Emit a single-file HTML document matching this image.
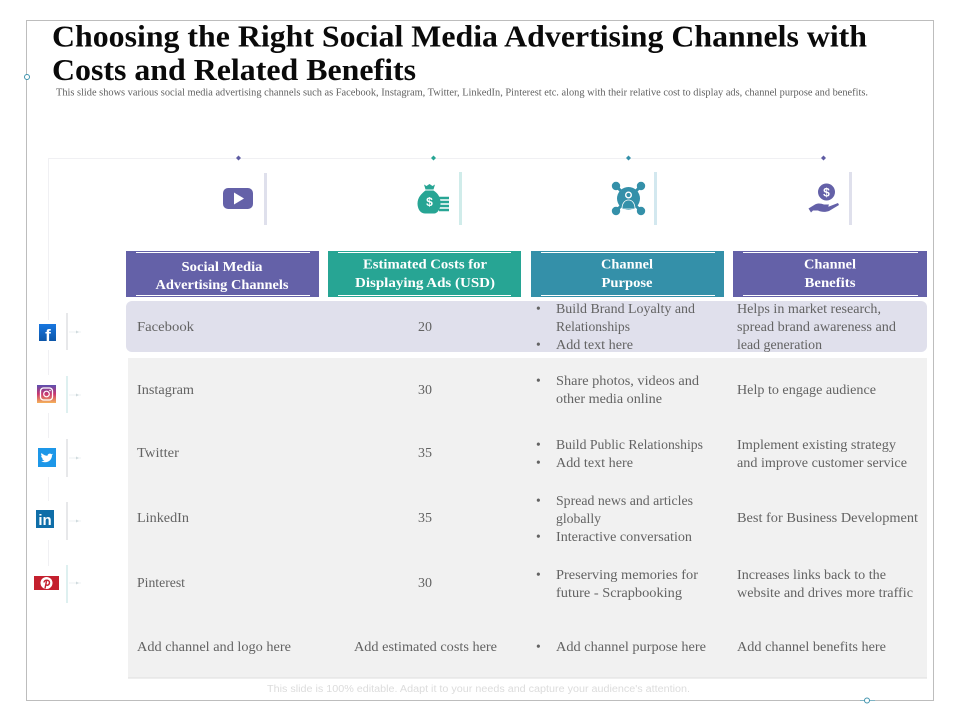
<!DOCTYPE html>
<html lang="en">
<head>
<meta charset="utf-8">
<title>Choosing the Right Social Media Advertising Channels</title>
<style>
html,body{margin:0;padding:0;background:#fff;width:960px;height:720px;overflow:hidden}
svg{display:block}
text{font-family:"Liberation Serif",serif}
.t{font-size:13.5px;fill:#636363}
.h{font-size:13.5px;font-weight:bold;fill:#fff}
</style>
</head>
<body>
<svg width="960" height="720" viewBox="0 0 960 720" xmlns="http://www.w3.org/2000/svg">
<rect x="26.5" y="20.5" width="907" height="680" fill="#fff" stroke="#bdbdbd"/>
<line x1="860" y1="700.5" x2="875" y2="700.5" stroke="#7fb4c4"/>
<circle cx="27" cy="77" r="2.5" fill="#fff" stroke="#3f93ad"/>
<circle cx="867" cy="700.5" r="2.5" fill="#fff" stroke="#3f93ad"/>

<text x="52" y="46.500" font-size="31" font-weight="bold" fill="#0a0a0a" textLength="815" lengthAdjust="spacingAndGlyphs">Choosing the Right Social Media Advertising Channels with</text>
<text x="52" y="80" font-size="31" font-weight="bold" fill="#0a0a0a" textLength="364" lengthAdjust="spacingAndGlyphs">Costs and Related Benefits</text>
<text x="56" y="95.500" font-size="10" fill="#606060" textLength="812" lengthAdjust="spacingAndGlyphs">This slide shows various social media advertising channels such as Facebook, Instagram, Twitter, LinkedIn, Pinterest etc. along with their relative cost to display ads, channel purpose and benefits.</text>

<path d="M48.500 320V158.500H825M48.500 350V375M48.500 413V438M48.500 477V501M48.500 540V566" fill="none" stroke="#f0f0f3"/>
<path d="M238.500 155.500l2.500 2.500-2.500 2.500-2.500-2.500z" fill="#5f5ca3"/>
<path d="M433.500 155.500l2.500 2.500-2.500 2.500-2.500-2.500z" fill="#27a594"/>
<path d="M628.500 155.500l2.500 2.500-2.500 2.500-2.500-2.500z" fill="#3490a9"/>
<path d="M823.500 155.500l2.500 2.500-2.500 2.500-2.500-2.500z" fill="#5f5ca3"/>

<rect x="264" y="173" width="3" height="52" fill="#dfe0ec"/>
<rect x="459" y="172" width="3" height="53" fill="#d0ecea"/>
<rect x="654" y="172" width="3" height="53" fill="#d3e8ef"/>
<rect x="849" y="172" width="3" height="53" fill="#dfe0ec"/>

<g>
<rect x="223" y="188" width="30" height="21" rx="5" fill="#6461a8"/>
<path d="M234 192.500l10 6-10 6z" fill="#fff"/>
</g>
<g>
<path d="M424 184.500l2.500 1.500 3-2 3 2 2.500-1.500-1.500 5h-8zM425.500 190.500h8c5 3 7.500 8 7 14 -.5 5-3 9-6.500 9h-9c-5 0-7.500-5-7.500-10 0-6 4-10 8-13z" fill="#27a594"/>
<text x="429.500" y="206" font-size="12" font-weight="bold" fill="#fff" text-anchor="middle" style="font-family:'Liberation Sans',sans-serif">$</text>
<path d="M439 198h10M439 202h10M439 206h10M439 210h10" stroke="#27a594" stroke-width="2.400"/>
</g>
<g>
<path d="M616 186l25 25M641 186l-25 25" stroke="#3490a9" stroke-width="3"/>
<circle cx="616" cy="186" r="4.200" fill="#3490a9"/>
<circle cx="641" cy="186" r="4.200" fill="#3490a9"/>
<circle cx="616" cy="211" r="4.200" fill="#3490a9"/>
<circle cx="641" cy="211" r="4.200" fill="#3490a9"/>
<circle cx="628.500" cy="198.500" r="11.500" fill="#3490a9"/>
<circle cx="628.500" cy="195" r="2.800" fill="#3490a9" stroke="#fff" stroke-width="1.400"/>
<path d="M622 209c0-6 3-9 6.500-9s6.500 3 6.500 9z" fill="#3490a9" stroke="#fff" stroke-width=".8"/>
</g>
<g>
<circle cx="826.500" cy="192" r="8.500" fill="#6461a8"/>
<text x="826.500" y="196.500" font-size="12" font-weight="bold" fill="#fff" text-anchor="middle" style="font-family:'Liberation Sans',sans-serif">$</text>
<path d="M808.500 208.500l6.500-4c3-1.500 6-1 9 0h5l-1 2.500h-6l7-.5 9-3.500 1 2-10 6c-4 1.500-8 1-11-.5h-5l-2 2z" fill="#6461a8"/>
</g>

<g>
<rect x="126" y="251" width="193" height="46" fill="#6461a8"/>
<path d="M136 252.500h174M136 295.500h174" stroke="#fff"/>
<text class="h" x="222" y="271" text-anchor="middle" textLength="81" lengthAdjust="spacingAndGlyphs">Social Media</text>
<text class="h" x="222" y="289" text-anchor="middle" textLength="133" lengthAdjust="spacingAndGlyphs">Advertising Channels</text>
</g>
<g>
<rect x="328" y="251" width="193" height="46" fill="#27a594"/>
<path d="M338 252.500h173M338 295.500h173" stroke="#fff"/>
<text class="h" x="425" y="268.500" text-anchor="middle" textLength="124" lengthAdjust="spacingAndGlyphs">Estimated Costs for</text>
<text class="h" x="425" y="287" text-anchor="middle" textLength="140" lengthAdjust="spacingAndGlyphs">Displaying Ads (USD)</text>
</g>
<g>
<rect x="531" y="251" width="193" height="46" fill="#3490a9"/>
<path d="M541 252.500h174M541 295.500h174" stroke="#fff"/>
<text class="h" x="627" y="268.500" text-anchor="middle" textLength="52" lengthAdjust="spacingAndGlyphs">Channel</text>
<text class="h" x="627" y="287" text-anchor="middle" textLength="51" lengthAdjust="spacingAndGlyphs">Purpose</text>
</g>
<g>
<rect x="733" y="251" width="194" height="46" fill="#6461a8"/>
<path d="M743 252.500h175M743 295.500h175" stroke="#fff"/>
<text class="h" x="830" y="268.500" text-anchor="middle" textLength="52" lengthAdjust="spacingAndGlyphs">Channel</text>
<text class="h" x="830" y="287" text-anchor="middle" textLength="51" lengthAdjust="spacingAndGlyphs">Benefits</text>
</g>

<rect x="126" y="301" width="801" height="51" rx="6" fill="#e0e0ec"/>
<rect x="128" y="358" width="799" height="320" fill="#f1f1f1"/>
<line x1="128" y1="678" x2="927" y2="678" stroke="#dedede"/>

<g>
<text class="t" x="137" y="331" textLength="57" lengthAdjust="spacingAndGlyphs">Facebook</text>
<text class="t" x="425" y="331" text-anchor="middle" textLength="14" lengthAdjust="spacingAndGlyphs">20</text>
<text class="t" x="536" y="313">•</text>
<text class="t" x="556" y="313" textLength="139" lengthAdjust="spacingAndGlyphs">Build Brand Loyalty and</text>
<text class="t" x="556" y="331" textLength="74" lengthAdjust="spacingAndGlyphs">Relationships</text>
<text class="t" x="536" y="349">•</text>
<text class="t" x="556" y="349" textLength="77" lengthAdjust="spacingAndGlyphs">Add text here</text>
<text class="t" x="737" y="313" textLength="144" lengthAdjust="spacingAndGlyphs">Helps in market research,</text>
<text class="t" x="737" y="331" textLength="159" lengthAdjust="spacingAndGlyphs">spread brand awareness and</text>
<text class="t" x="737" y="349" textLength="85" lengthAdjust="spacingAndGlyphs">lead generation</text>
</g>
<g>
<text class="t" x="137" y="394" textLength="57" lengthAdjust="spacingAndGlyphs">Instagram</text>
<text class="t" x="425" y="394" text-anchor="middle" textLength="14" lengthAdjust="spacingAndGlyphs">30</text>
<text class="t" x="536" y="385">•</text>
<text class="t" x="556" y="385" textLength="143" lengthAdjust="spacingAndGlyphs">Share photos, videos and</text>
<text class="t" x="556" y="403" textLength="106" lengthAdjust="spacingAndGlyphs">other media online</text>
<text class="t" x="737" y="394" textLength="139" lengthAdjust="spacingAndGlyphs">Help to engage audience</text>
</g>
<g>
<text class="t" x="137" y="457" textLength="42" lengthAdjust="spacingAndGlyphs">Twitter</text>
<text class="t" x="425" y="457" text-anchor="middle" textLength="14" lengthAdjust="spacingAndGlyphs">35</text>
<text class="t" x="536" y="449">•</text>
<text class="t" x="556" y="449" textLength="147" lengthAdjust="spacingAndGlyphs">Build Public Relationships</text>
<text class="t" x="536" y="467">•</text>
<text class="t" x="556" y="467" textLength="77" lengthAdjust="spacingAndGlyphs">Add text here</text>
<text class="t" x="737" y="449" textLength="159" lengthAdjust="spacingAndGlyphs">Implement existing strategy</text>
<text class="t" x="737" y="467" textLength="170" lengthAdjust="spacingAndGlyphs">and improve customer service</text>
</g>
<g>
<text class="t" x="137" y="522" textLength="52" lengthAdjust="spacingAndGlyphs">LinkedIn</text>
<text class="t" x="425" y="522" text-anchor="middle" textLength="14" lengthAdjust="spacingAndGlyphs">35</text>
<text class="t" x="536" y="505">•</text>
<text class="t" x="556" y="505" textLength="137" lengthAdjust="spacingAndGlyphs">Spread news and articles</text>
<text class="t" x="556" y="523" textLength="45" lengthAdjust="spacingAndGlyphs">globally</text>
<text class="t" x="536" y="541">•</text>
<text class="t" x="556" y="541" textLength="136" lengthAdjust="spacingAndGlyphs">Interactive conversation</text>
<text class="t" x="737" y="522" textLength="181" lengthAdjust="spacingAndGlyphs">Best for Business Development</text>
</g>
<g>
<text class="t" x="137" y="587" textLength="48" lengthAdjust="spacingAndGlyphs">Pinterest</text>
<text class="t" x="425" y="587" text-anchor="middle" textLength="14" lengthAdjust="spacingAndGlyphs">30</text>
<text class="t" x="536" y="579">•</text>
<text class="t" x="556" y="579" textLength="142" lengthAdjust="spacingAndGlyphs">Preserving memories for</text>
<text class="t" x="556" y="597" textLength="126" lengthAdjust="spacingAndGlyphs">future - Scrapbooking</text>
<text class="t" x="737" y="579" textLength="149" lengthAdjust="spacingAndGlyphs">Increases links back to the</text>
<text class="t" x="737" y="597" textLength="176" lengthAdjust="spacingAndGlyphs">website and drives more traffic</text>
</g>
<g>
<text class="t" x="137" y="651" textLength="154" lengthAdjust="spacingAndGlyphs">Add channel and logo here</text>
<text class="t" x="354" y="651" textLength="143" lengthAdjust="spacingAndGlyphs">Add estimated costs here</text>
<text class="t" x="536" y="651">•</text>
<text class="t" x="556" y="651" textLength="150" lengthAdjust="spacingAndGlyphs">Add channel purpose here</text>
<text class="t" x="737" y="651" textLength="149" lengthAdjust="spacingAndGlyphs">Add channel benefits here</text>
</g>

<g>
<path d="M67 313v37M67 439v38M67 502v38" stroke="#dfe0e4" stroke-width="1.500"/>
<path d="M67 376v37M67 565v38" stroke="#d3ecec" stroke-width="1.500"/>
<path d="M69 332h12M69 395h12M69 458h12M69 521h12M69 583h12" stroke="#eef2f3"/>
<path d="M76 330.500l3 1.500-3 1.500zM76 393.500l3 1.500-3 1.500zM76 456.500l3 1.500-3 1.500zM76 519.500l3 1.500-3 1.500zM76 581.500l3 1.500-3 1.500z" fill="#cfdadd"/>
</g>

<defs>
<linearGradient id="fbg" x1="0" y1="0" x2="0" y2="1"><stop offset="0" stop-color="#1877e0"/><stop offset="1" stop-color="#0d56a8"/></linearGradient>
<linearGradient id="igg" x1="0" y1="0" x2="0" y2="1"><stop offset="0" stop-color="#5b4fb0"/><stop offset=".5" stop-color="#c9366f"/><stop offset="1" stop-color="#f5b35a"/></linearGradient>
</defs>
<g>
<rect x="39" y="324" width="17" height="17" fill="url(#fbg)"/>
<text x="48" y="341" font-size="17" font-weight="bold" fill="#fff" text-anchor="middle" style="font-family:'Liberation Sans',sans-serif">f</text>
</g>
<g>
<rect x="37" y="385" width="19" height="18" fill="url(#igg)"/>
<rect x="40.500" y="388" width="12" height="12" rx="3" fill="none" stroke="#fff" stroke-width="1.300"/>
<circle cx="46.500" cy="394" r="2.800" fill="none" stroke="#fff" stroke-width="1.200"/>
<circle cx="50" cy="390.500" r=".8" fill="#fff"/>
</g>
<g>
<rect x="38" y="448" width="18" height="19" fill="#1d97e8"/>
<path d="M42 453.500c2 1.500 3.500 2.300 5.500 2.300 0-2 2.500-3 4-1.500l1.500-.5-1 1.500c0 4-3 7-7 7-1.500 0-2.800-.4-3.800-1 1.300 0 2.300-.3 3.200-1-1.200-.1-2-.8-2.400-1.800h1.100c-1.200-.5-1.900-1.400-2-2.600l1 .3c-1-.9-1.300-2-.6-3.200z" fill="#fff"/>
</g>
<g>
<rect x="36" y="510" width="18" height="18" fill="#0f6ea8"/>
<text x="45" y="525" font-size="15" font-weight="bold" fill="#fff" text-anchor="middle" style="font-family:'Liberation Sans',sans-serif">in</text>
</g>
<g>
<rect x="34" y="576" width="25" height="14" fill="#c4202e"/>
<circle cx="46.500" cy="583" r="6" fill="#fff"/>
<path d="M45 588.500l1.500-7.500M44 582.500c0-3 5.500-3 5.500 0 0 2.500-2.500 3.500-3.500 2" fill="none" stroke="#c4202e" stroke-width="1.400"/>
</g>

<text x="267" y="692" font-size="10" fill="#dcdcdc" textLength="423" lengthAdjust="spacingAndGlyphs" style="font-family:'Liberation Sans',sans-serif">This slide is 100% editable. Adapt it to your needs and capture your audience's attention.</text>
</svg>
</body>
</html>
